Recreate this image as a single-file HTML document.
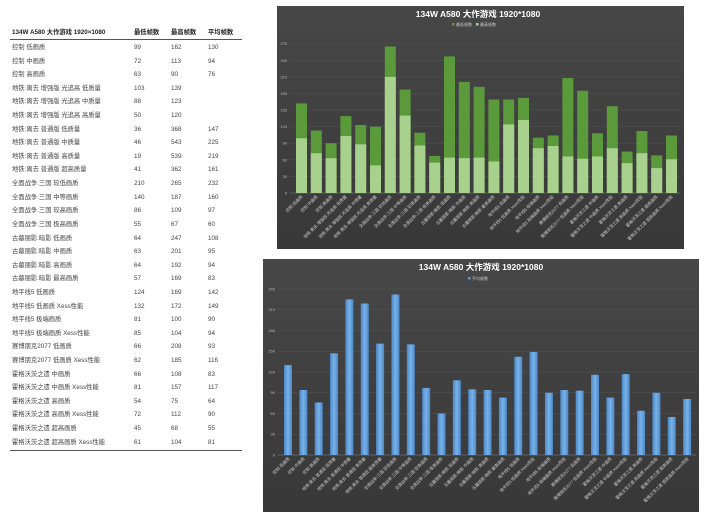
<!DOCTYPE html>
<html><head><meta charset="utf-8"><style>
body{margin:0;width:720px;height:521px;background:#fff;position:relative;overflow:hidden;font-family:"Liberation Sans","Noto Sans CJK SC",sans-serif}
#t{position:absolute;left:10px;top:27px;width:232px;font-size:6.3px;color:#444}
#t .r{height:13.62px;line-height:13.62px;position:relative}
#t .r span{position:absolute;top:0}
#t .h{font-weight:bold;color:#222;border-bottom:1px solid #555;height:12px;line-height:12px;margin-bottom:1px}
#t .c1{left:2px}#t .c2{left:124px}#t .c3{left:161px}#t .c4{left:198px}
#bl{position:absolute;left:10px;top:450px;width:232px;border-top:1px solid #555}
svg{position:absolute;left:0;top:0}
</style></head><body>
<div id="t">
<div class="r h"><span class="c1">134W A580 大作游戏 1920×1080</span><span class="c2">最低帧数</span><span class="c3">最高帧数</span><span class="c4">平均帧数</span></div>
<div class="r"><span class="c1">控制 低画质</span><span class="c2">99</span><span class="c3">162</span><span class="c4">130</span></div>
<div class="r"><span class="c1">控制 中画质</span><span class="c2">72</span><span class="c3">113</span><span class="c4">94</span></div>
<div class="r"><span class="c1">控制 高画质</span><span class="c2">63</span><span class="c3">90</span><span class="c4">76</span></div>
<div class="r"><span class="c1">地铁:离去 增强版 光追高 低质量</span><span class="c2">103</span><span class="c3">139</span></div>
<div class="r"><span class="c1">地铁:离去 增强版 光追高 中质量</span><span class="c2">88</span><span class="c3">123</span></div>
<div class="r"><span class="c1">地铁:离去 增强版 光追高 高质量</span><span class="c2">50</span><span class="c3">120</span></div>
<div class="r"><span class="c1">地铁:离去 普通版 低质量</span><span class="c2">36</span><span class="c3">368</span><span class="c4">147</span></div>
<div class="r"><span class="c1">地铁:离去 普通版 中质量</span><span class="c2">46</span><span class="c3">543</span><span class="c4">225</span></div>
<div class="r"><span class="c1">地铁:离去 普通版 高质量</span><span class="c2">19</span><span class="c3">539</span><span class="c4">219</span></div>
<div class="r"><span class="c1">地铁:离去 普通版 超高质量</span><span class="c2">41</span><span class="c3">362</span><span class="c4">161</span></div>
<div class="r"><span class="c1">全面战争:三国 较低画质</span><span class="c2">210</span><span class="c3">265</span><span class="c4">232</span></div>
<div class="r"><span class="c1">全面战争:三国 中等画质</span><span class="c2">140</span><span class="c3">187</span><span class="c4">160</span></div>
<div class="r"><span class="c1">全面战争:三国 较高画质</span><span class="c2">86</span><span class="c3">109</span><span class="c4">97</span></div>
<div class="r"><span class="c1">全面战争:三国 极高画质</span><span class="c2">55</span><span class="c3">67</span><span class="c4">60</span></div>
<div class="r"><span class="c1">古墓丽影:暗影 低画质</span><span class="c2">64</span><span class="c3">247</span><span class="c4">108</span></div>
<div class="r"><span class="c1">古墓丽影:暗影 中画质</span><span class="c2">63</span><span class="c3">201</span><span class="c4">95</span></div>
<div class="r"><span class="c1">古墓丽影:暗影 高画质</span><span class="c2">64</span><span class="c3">192</span><span class="c4">94</span></div>
<div class="r"><span class="c1">古墓丽影:暗影 最高画质</span><span class="c2">57</span><span class="c3">169</span><span class="c4">83</span></div>
<div class="r"><span class="c1">地平线5 低画质</span><span class="c2">124</span><span class="c3">169</span><span class="c4">142</span></div>
<div class="r"><span class="c1">地平线5 低画质 Xess性能</span><span class="c2">132</span><span class="c3">172</span><span class="c4">149</span></div>
<div class="r"><span class="c1">地平线5 极端画质</span><span class="c2">81</span><span class="c3">100</span><span class="c4">90</span></div>
<div class="r"><span class="c1">地平线5 极端画质 Xess性能</span><span class="c2">85</span><span class="c3">104</span><span class="c4">94</span></div>
<div class="r"><span class="c1">赛博朋克2077 低画质</span><span class="c2">66</span><span class="c3">208</span><span class="c4">93</span></div>
<div class="r"><span class="c1">赛博朋克2077 低画质 Xess性能</span><span class="c2">62</span><span class="c3">185</span><span class="c4">116</span></div>
<div class="r"><span class="c1">霍格沃茨之遗 中画质</span><span class="c2">66</span><span class="c3">108</span><span class="c4">83</span></div>
<div class="r"><span class="c1">霍格沃茨之遗 中画质 Xess性能</span><span class="c2">81</span><span class="c3">157</span><span class="c4">117</span></div>
<div class="r"><span class="c1">霍格沃茨之遗 高画质</span><span class="c2">54</span><span class="c3">75</span><span class="c4">64</span></div>
<div class="r"><span class="c1">霍格沃茨之遗 高画质 Xess性能</span><span class="c2">72</span><span class="c3">112</span><span class="c4">90</span></div>
<div class="r"><span class="c1">霍格沃茨之遗 超高画质</span><span class="c2">45</span><span class="c3">68</span><span class="c4">55</span></div>
<div class="r"><span class="c1">霍格沃茨之遗 超高画质 Xess性能</span><span class="c2">61</span><span class="c3">104</span><span class="c4">81</span></div>
</div>
<div id="bl"></div>

<svg width="720" height="521" font-family="Liberation Sans, Noto Sans CJK SC, sans-serif">
<defs>
<linearGradient id="bg" x1="0" y1="0" x2="0" y2="1"><stop offset="0" stop-color="#474747"/><stop offset="1" stop-color="#383838"/></linearGradient>
<linearGradient id="bb" x1="0" y1="0" x2="1" y2="0"><stop offset="0" stop-color="#4a88c8"/><stop offset="0.5" stop-color="#79b2e8"/><stop offset="1" stop-color="#4a88c8"/></linearGradient>
</defs>
<!-- chart 1 -->
<rect x="277" y="6" width="407" height="243" fill="url(#bg)"/>
<text x="478" y="17" fill="#fff" font-size="8.5" font-weight="bold" text-anchor="middle">134W A580 大作游戏 1920*1080</text>
<rect x="452" y="23" width="2.5" height="2.5" fill="#5a9a3a"/><text x="456" y="26" fill="#ccc" font-size="4">最低帧数</text>
<rect x="476" y="23" width="2.5" height="2.5" fill="#a9d18e"/><text x="480" y="26" fill="#ccc" font-size="4">最高帧数</text>
<g stroke="#555" stroke-width="0.5">
<line x1="290" x2="680" y1="176.4" y2="176.4"/><line x1="290" x2="680" y1="159.8" y2="159.8"/><line x1="290" x2="680" y1="143.2" y2="143.2"/><line x1="290" x2="680" y1="126.6" y2="126.6"/><line x1="290" x2="680" y1="110" y2="110"/><line x1="290" x2="680" y1="93.5" y2="93.5"/><line x1="290" x2="680" y1="76.9" y2="76.9"/><line x1="290" x2="680" y1="60.3" y2="60.3"/><line x1="290" x2="680" y1="43.7" y2="43.7"/>
</g>
<line x1="290" x2="680" y1="193" y2="193" stroke="#888" stroke-width="0.6"/>
<g fill="#bbb" font-size="4" text-anchor="end">
<text x="287" y="194.5">0</text><text x="287" y="178">30</text><text x="287" y="161.3">60</text><text x="287" y="144.7">90</text><text x="287" y="128">120</text><text x="287" y="111.5">150</text><text x="287" y="95">180</text><text x="287" y="78.4">210</text><text x="287" y="61.8">240</text><text x="287" y="45.2">270</text>
</g>
<g transform="translate(0,193) scale(1,-0.553)">
<g fill="#5a9a3a">
<rect x="296" width="11" height="162"/><rect x="310.8" width="11" height="113"/><rect x="325.6" width="11" height="90"/><rect x="340.4" width="11" height="139"/><rect x="355.2" width="11" height="123"/><rect x="370" width="11" height="120"/><rect x="384.8" width="11" height="265"/><rect x="399.6" width="11" height="187"/><rect x="414.4" width="11" height="109"/><rect x="429.2" width="11" height="67"/><rect x="444" width="11" height="247"/><rect x="458.8" width="11" height="201"/><rect x="473.6" width="11" height="192"/><rect x="488.4" width="11" height="169"/><rect x="503.2" width="11" height="169"/><rect x="518" width="11" height="172"/><rect x="532.8" width="11" height="100"/><rect x="547.6" width="11" height="104"/><rect x="562.4" width="11" height="208"/><rect x="577.2" width="11" height="185"/><rect x="592" width="11" height="108"/><rect x="606.8" width="11" height="157"/><rect x="621.6" width="11" height="75"/><rect x="636.4" width="11" height="112"/><rect x="651.2" width="11" height="68"/><rect x="666" width="11" height="104"/>
</g>
<g fill="#a9d18e">
<rect x="296" width="11" height="99"/><rect x="310.8" width="11" height="72"/><rect x="325.6" width="11" height="63"/><rect x="340.4" width="11" height="103"/><rect x="355.2" width="11" height="88"/><rect x="370" width="11" height="50"/><rect x="384.8" width="11" height="210"/><rect x="399.6" width="11" height="140"/><rect x="414.4" width="11" height="86"/><rect x="429.2" width="11" height="55"/><rect x="444" width="11" height="64"/><rect x="458.8" width="11" height="63"/><rect x="473.6" width="11" height="64"/><rect x="488.4" width="11" height="57"/><rect x="503.2" width="11" height="124"/><rect x="518" width="11" height="132"/><rect x="532.8" width="11" height="81"/><rect x="547.6" width="11" height="85"/><rect x="562.4" width="11" height="66"/><rect x="577.2" width="11" height="62"/><rect x="592" width="11" height="66"/><rect x="606.8" width="11" height="81"/><rect x="621.6" width="11" height="54"/><rect x="636.4" width="11" height="72"/><rect x="651.2" width="11" height="45"/><rect x="666" width="11" height="61"/>
</g></g>
<g fill="#ccc" font-size="4.2" text-anchor="end">
<text transform="translate(303,197) rotate(-45)">控制 低画质</text><text transform="translate(318,197) rotate(-45)">控制 中画质</text><text transform="translate(333,197) rotate(-45)">控制 高画质</text><text transform="translate(347,197) rotate(-45)">地铁:离去 增强版 光追高 低质量</text><text transform="translate(362,197) rotate(-45)">地铁:离去 增强版 光追高 中质量</text><text transform="translate(377,197) rotate(-45)">地铁:离去 增强版 光追高 高质量</text><text transform="translate(392,197) rotate(-45)">全面战争:三国 较低画质</text><text transform="translate(407,197) rotate(-45)">全面战争:三国 中等画质</text><text transform="translate(421,197) rotate(-45)">全面战争:三国 较高画质</text><text transform="translate(436,197) rotate(-45)">全面战争:三国 极高画质</text><text transform="translate(451,197) rotate(-45)">古墓丽影:暗影 低画质</text><text transform="translate(466,197) rotate(-45)">古墓丽影:暗影 中画质</text><text transform="translate(480,197) rotate(-45)">古墓丽影:暗影 高画质</text><text transform="translate(495,197) rotate(-45)">古墓丽影:暗影 最高画质</text><text transform="translate(510,197) rotate(-45)">地平线5 低画质</text><text transform="translate(525,197) rotate(-45)">地平线5 低画质 Xess性能</text><text transform="translate(540,197) rotate(-45)">地平线5 极端画质</text><text transform="translate(554,197) rotate(-45)">地平线5 极端画质 Xess性能</text><text transform="translate(569,197) rotate(-45)">赛博朋克2077 低画质</text><text transform="translate(584,197) rotate(-45)">赛博朋克2077 低画质 Xess性能</text><text transform="translate(599,197) rotate(-45)">霍格沃茨之遗 中画质</text><text transform="translate(613,197) rotate(-45)">霍格沃茨之遗 中画质 Xess性能</text><text transform="translate(628,197) rotate(-45)">霍格沃茨之遗 高画质</text><text transform="translate(643,197) rotate(-45)">霍格沃茨之遗 高画质 Xess性能</text><text transform="translate(658,197) rotate(-45)">霍格沃茨之遗 超高画质</text><text transform="translate(673,197) rotate(-45)">霍格沃茨之遗 超高画质 Xess性能</text>
</g>

<!-- chart 2 -->
<rect x="263" y="259" width="436" height="253" fill="url(#bg)"/>
<text x="481" y="270" fill="#fff" font-size="8.5" font-weight="bold" text-anchor="middle">134W A580 大作游戏 1920*1080</text>
<rect x="468" y="277" width="2.5" height="2.5" fill="#5b9bd5"/><text x="472" y="280" fill="#ccc" font-size="4">平均帧数</text>
<g stroke="#555" stroke-width="0.5">
<line x1="278" x2="696" y1="434.25" y2="434.25"/><line x1="278" x2="696" y1="413.5" y2="413.5"/><line x1="278" x2="696" y1="392.75" y2="392.75"/><line x1="278" x2="696" y1="372" y2="372"/><line x1="278" x2="696" y1="351.25" y2="351.25"/><line x1="278" x2="696" y1="330.5" y2="330.5"/><line x1="278" x2="696" y1="309.75" y2="309.75"/><line x1="278" x2="696" y1="289" y2="289"/>
</g>
<line x1="278" x2="696" y1="455" y2="455" stroke="#888" stroke-width="0.6"/>
<g fill="#bbb" font-size="4" text-anchor="end">
<text x="275" y="456.5">0</text><text x="275" y="435.7">30</text><text x="275" y="415">60</text><text x="275" y="394.2">90</text><text x="275" y="373.5">120</text><text x="275" y="352.7">150</text><text x="275" y="332">180</text><text x="275" y="311.2">210</text><text x="275" y="290.5">240</text>
</g>
<g transform="translate(0,455) scale(1,-0.6917)" fill="url(#bb)">
<rect x="284" width="8" height="130"/><rect x="299.35" width="8" height="94"/><rect x="314.7" width="8" height="76"/><rect x="330.05" width="8" height="147"/><rect x="345.4" width="8" height="225"/><rect x="360.75" width="8" height="219"/><rect x="376.1" width="8" height="161"/><rect x="391.45" width="8" height="232"/><rect x="406.8" width="8" height="160"/><rect x="422.15" width="8" height="97"/><rect x="437.5" width="8" height="60"/><rect x="452.85" width="8" height="108"/><rect x="468.2" width="8" height="95"/><rect x="483.55" width="8" height="94"/><rect x="498.9" width="8" height="83"/><rect x="514.25" width="8" height="142"/><rect x="529.6" width="8" height="149"/><rect x="544.95" width="8" height="90"/><rect x="560.3" width="8" height="94"/><rect x="575.65" width="8" height="93"/><rect x="591" width="8" height="116"/><rect x="606.35" width="8" height="83"/><rect x="621.7" width="8" height="117"/><rect x="637.05" width="8" height="64"/><rect x="652.4" width="8" height="90"/><rect x="667.75" width="8" height="55"/><rect x="683.1" width="8" height="81"/>
</g>
<g fill="#ccc" font-size="4.2" text-anchor="end">
<text transform="translate(290,459) rotate(-45)">控制 低画质</text><text transform="translate(305,459) rotate(-45)">控制 中画质</text><text transform="translate(320,459) rotate(-45)">控制 高画质</text><text transform="translate(336,459) rotate(-45)">地铁:离去 普通版 低质量</text><text transform="translate(351,459) rotate(-45)">地铁:离去 普通版 中质量</text><text transform="translate(366,459) rotate(-45)">地铁:离去 普通版 高质量</text><text transform="translate(382,459) rotate(-45)">地铁:离去 普通版 超高质量</text><text transform="translate(397,459) rotate(-45)">全面战争:三国 较低画质</text><text transform="translate(412,459) rotate(-45)">全面战争:三国 中等画质</text><text transform="translate(428,459) rotate(-45)">全面战争:三国 较高画质</text><text transform="translate(443,459) rotate(-45)">全面战争:三国 极高画质</text><text transform="translate(459,459) rotate(-45)">古墓丽影:暗影 低画质</text><text transform="translate(474,459) rotate(-45)">古墓丽影:暗影 中画质</text><text transform="translate(489,459) rotate(-45)">古墓丽影:暗影 高画质</text><text transform="translate(505,459) rotate(-45)">古墓丽影:暗影 最高画质</text><text transform="translate(520,459) rotate(-45)">地平线5 低画质</text><text transform="translate(535,459) rotate(-45)">地平线5 低画质 Xess性能</text><text transform="translate(551,459) rotate(-45)">地平线5 极端画质</text><text transform="translate(566,459) rotate(-45)">地平线5 极端画质 Xess性能</text><text transform="translate(581,459) rotate(-45)">赛博朋克2077 低画质</text><text transform="translate(597,459) rotate(-45)">赛博朋克2077 低画质 Xess性能</text><text transform="translate(612,459) rotate(-45)">霍格沃茨之遗 中画质</text><text transform="translate(627,459) rotate(-45)">霍格沃茨之遗 中画质 Xess性能</text><text transform="translate(643,459) rotate(-45)">霍格沃茨之遗 高画质</text><text transform="translate(658,459) rotate(-45)">霍格沃茨之遗 高画质 Xess性能</text><text transform="translate(673,459) rotate(-45)">霍格沃茨之遗 超高画质</text><text transform="translate(689,459) rotate(-45)">霍格沃茨之遗 超高画质 Xess性能</text>
</g>
</svg>
</body></html>
